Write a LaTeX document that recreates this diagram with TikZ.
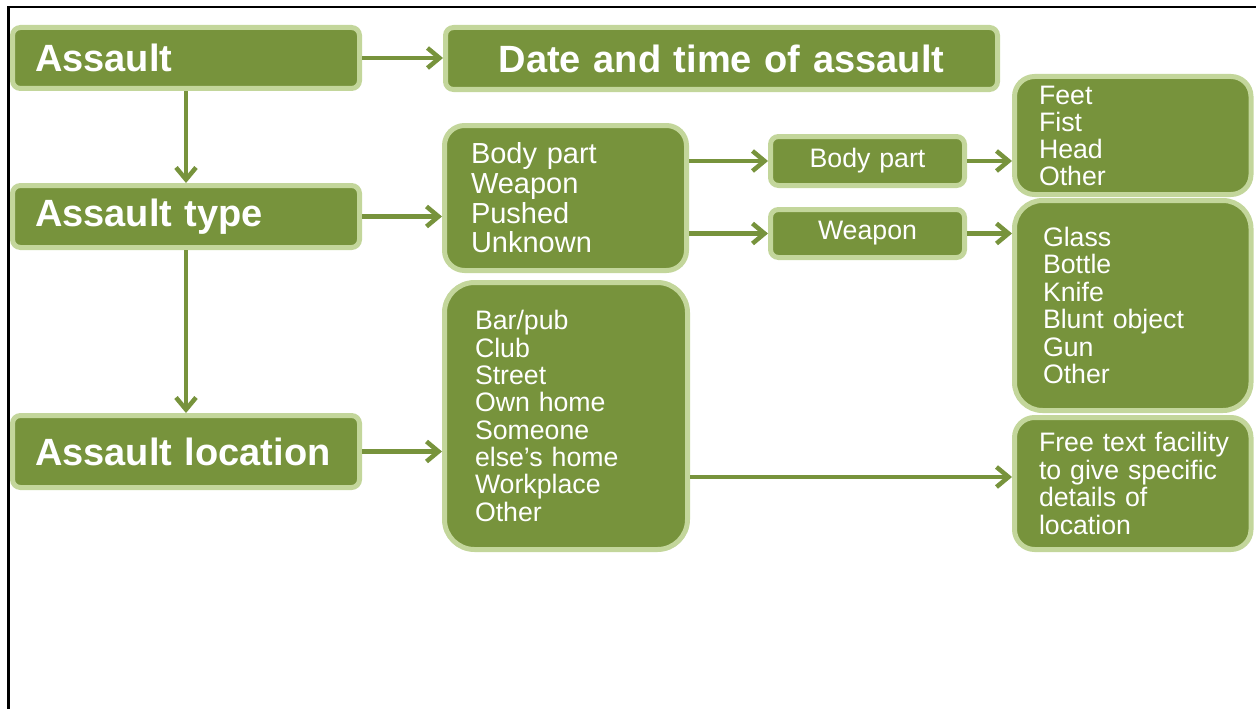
\documentclass[tikz,border=0pt]{standalone}
\usepackage{fontspec}
\setmainfont{Liberation Sans}
\usetikzlibrary{arrows.meta}
\definecolor{boxgreen}{HTML}{77933C}
\definecolor{boxborder}{HTML}{C3D69B}
\begin{document}
\begin{tikzpicture}[x=1pt,y=-1pt,
  box/.style={draw=boxborder, fill=boxgreen, line width=5pt, text=white,
    rounded corners=#1, inner ysep=0pt, align=left},
  box/.default=8pt,
  headfont/.style={font=\bfseries\fontsize{38}{40}\selectfont},
  listfont/.style={font=\fontsize{26.7}{27.4}\selectfont},
  arr/.style={draw=boxgreen, line width=4.5pt,
    -{Straight Barb[length=12pt,width=20pt]}}
]
\useasboundingbox (0,0) rectangle (1256,709);
% frame
\draw[line width=2.5pt, black] (8.5,709) -- (8.5,7) -- (1256,7);

% left column
\node[box, headfont, inner xsep=22.5pt, text width=302pt, minimum height=61pt]
  (assault) at (186,58) {Assault};
\node[box, headfont, inner xsep=22.5pt, text width=302pt, minimum height=62pt]
  (type) at (186,216.5) {Assault type};
\node[box, headfont, inner xsep=22.5pt, text width=302pt, minimum height=72pt]
  (loc) at (186,451.5) {Assault location};

% date
\node[box, headfont, align=center, inner xsep=10pt, text width=532pt, minimum height=62pt]
  (date) at (721.5,58.5) {Date and time of assault};

% middle lists
\node[box=20pt, font=\fontsize{29}{29.7}\selectfont, inner xsep=26.5pt, text width=189pt,
  minimum height=145pt]
  (blist) at (565.5,198) {Body part\\Weapon\\Pushed\\Unknown};
\node[box=30pt, font=\fontsize{26.7}{27.3}\selectfont, inner xsep=30.5pt, text width=182pt,
  minimum height=267pt]
  (llist) at (566,416) {Bar/pub\\Club\\Street\\Own home\\Someone\\else’s home\\Workplace\\Other};

% small boxes
\node[box, listfont, align=center, inner xsep=10pt, text width=174pt, minimum height=49pt]
  (bpart) at (867.5,161) {Body part};
\node[box, listfont, align=center, inner xsep=10pt, text width=174pt, minimum height=48pt]
  (weap) at (867.5,233.5) {Weapon};

% right lists
\node[box=20pt, font=\fontsize{26.7}{27}\selectfont, inner xsep=24.5pt, text width=187.5pt,
  minimum height=118pt]
  (feet) at (1132.75,135.5) {Feet\\Fist\\Head\\Other};
\node[box=28pt, listfont, inner xsep=28.5pt, text width=179.5pt, minimum height=210pt]
  (wlist) at (1132.75,305.5) {Glass\\Bottle\\Knife\\Blunt object\\Gun\\Other};
\node[box=20pt, font=\fontsize{26.7}{27.5}\selectfont, inner xsep=24.5pt, text width=187.5pt,
  minimum height=132pt]
  (free) at (1132.75,483.5) {\mbox{Free text facility}\\\mbox{to give specific}\\details of\\location};

% connectors
\draw[arr] (assault.east) -- (assault.east -| date.west);
\draw[arr] (assault) -- (type);
\draw[arr] (type) -- (loc);
\draw[arr] (type.east) -- (type.east -| blist.west);
\draw[arr] (loc.east) -- (loc.east -| llist.west);
\draw[arr] (bpart.west -| blist.east) -- (bpart.west);
\draw[arr] (weap.west -| blist.east) -- (weap.west);
\draw[arr] (bpart.east) -- (bpart.east -| feet.west);
\draw[arr] (weap.east) -- (weap.east -| wlist.west);
\draw[arr] ([yshift=6.5pt]free.west -| llist.east) -- ([yshift=6.5pt]free.west);
\end{tikzpicture}
\end{document}
